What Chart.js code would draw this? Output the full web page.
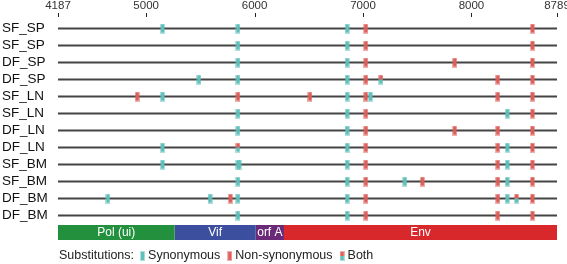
<!DOCTYPE html>
<html>
<head>
<meta charset="utf-8">
<script src="https://cdn.jsdelivr.net/npm/chart.js@4.4.0/dist/chart.umd.min.js"></script>
<style>
  html, body { margin: 0; padding: 0; background: #fff; }
  #wrap { width: 567px; height: 264px; }
</style>
</head>
<body>
<div id="wrap"><canvas id="grafico" width="567" height="264"></canvas></div>
<script>
// Linhas (amostras) de cima para baixo
const rowLabels = ['SF_SP', 'SF_SP', 'DF_SP', 'DF_SP', 'SF_LN', 'SF_LN',
                   'DF_LN', 'DF_LN', 'SF_BM', 'SF_BM', 'DF_BM', 'DF_BM'];
const xTicks = [4187, 5000, 6000, 7000, 8000, 8789];

// Posições das substituições por linha
const synonymous = [
  [5151, 5847, 6853],
  [5847, 6853],
  [5847, 6853],
  [5487, 5847, 6853],
  [5151, 6853, 7068],
  [5847, 6853, 8330],
  [5847, 6853],
  [5151, 6853, 8330],
  [5151, 5847, 5858, 6853, 8330],
  [5847, 6853, 7386, 8330],
  [4648, 5589, 5847, 6853, 8330],
  [5847, 6853]
];
const nonSynonymous = [
  [7026, 8563],
  [7026, 8563],
  [7026, 7846, 8563],
  [7026, 8243, 8563],
  [4917, 5847, 6511, 7026, 8243, 8563],
  [7026, 8563],
  [7026, 7846, 8243, 8563],
  [7026, 8243, 8563],
  [7026, 8243, 8563],
  [7026, 7547, 8243, 8563],
  [5777, 7026, 8243, 8563],
  [7026, 8243, 8563]
];
const both = [[], [], [], [7165], [], [], [], [5847], [], [], [8416], []];

// Genes
const geneNames = ['Pol (ui)', 'Vif', 'orf A', 'Env'];
const geneStart = [4187, 5262, 6011, 6271];
const geneEnd = [5262, 6011, 6271, 8789];
const geneColors = ['#22903c', '#3c4f9f', '#6a2a78', '#d9282b'];

const TEAL = '#5fbfba';
const RED = '#dd5f5b';
const FONT = '"Liberation Sans", Arial, Helvetica, sans-serif';

// Marcador retangular (canvas usado como pointStyle)
function criarMarca(topo, base) {
  const c = document.createElement('canvas');
  c.width = 5; c.height = 10;
  const g = c.getContext('2d');
  g.globalAlpha = 0.5;
  g.fillStyle = topo; g.fillRect(0, 0, 5, 5);
  g.fillStyle = base; g.fillRect(0, 5, 5, 5);
  g.globalAlpha = 1;
  g.fillStyle = topo; g.fillRect(1, 1, 3, 4);
  g.fillStyle = base; g.fillRect(1, 5, 3, 4);
  return c;
}
const marcaSyn = criarMarca(TEAL, TEAL);
const marcaNon = criarMarca(RED, RED);
const marcaBoth = criarMarca(RED, TEAL);

function pontos(lista) {
  const out = [];
  lista.forEach((linha, i) => linha.forEach(v => out.push({ x: v, y: i })));
  return out;
}

const datasets = [];
[[synonymous, marcaSyn], [nonSynonymous, marcaNon], [both, marcaBoth]].forEach(([lista, marca]) => {
  datasets.push({
    data: pontos(lista),
    pointStyle: marca,
    pointRadius: 5,
    showLine: false,
    order: 0
  });
});
rowLabels.forEach((_, i) => {
  datasets.push({
    data: [{ x: xTicks[0], y: i }, { x: xTicks[xTicks.length - 1], y: i }],
    showLine: true,
    borderColor: '#444',
    borderWidth: 2,
    pointRadius: 0,
    order: 2
  });
});
geneNames.forEach((_, i) => {
  datasets.push({
    data: [{ x: geneStart[i], y: 12 }, { x: geneEnd[i], y: 12 }],
    showLine: true,
    borderColor: geneColors[i],
    borderWidth: 15,
    borderCapStyle: 'butt',
    pointRadius: 0,
    order: 3
  });
});

// Plugin: marcas dos ticks, nomes dos genes e legenda
const extras = {
  id: 'extras',
  afterDatasetsDraw(chart) {
    const { ctx, scales: { x, y } } = chart;
    ctx.save();
    ctx.strokeStyle = '#222';
    ctx.lineWidth = 1;
    xTicks.forEach(v => {
      const px = Math.round(x.getPixelForValue(v)) + 0.5;
      ctx.beginPath();
      ctx.moveTo(px, 13);
      ctx.lineTo(px, 17);
      ctx.stroke();
    });

    ctx.fillStyle = '#fff';
    ctx.font = '12px ' + FONT;
    ctx.textAlign = 'center';
    ctx.textBaseline = 'middle';
    geneNames.forEach((nome, i) => {
      const cx = (x.getPixelForValue(geneStart[i]) + x.getPixelForValue(geneEnd[i])) / 2;
      ctx.fillText(nome, cx, y.getPixelForValue(12) + 0.5);
    });

    // Legenda
    ctx.font = '12.5px ' + FONT;
    ctx.textAlign = 'left';
    ctx.fillStyle = '#222';
    const ly = 256;
    let cx = 59;
    const itens = [['Synonymous', marcaSyn], ['Non-synonymous', marcaNon], ['Both', marcaBoth]];
    ctx.fillText('Substitutions:', cx, ly);
    cx += ctx.measureText('Substitutions:').width + 6;
    itens.forEach(([txt, marca]) => {
      ctx.drawImage(marca, cx, ly - 5);
      cx += 8;
      ctx.fillText(txt, cx, ly);
      cx += ctx.measureText(txt).width + 7;
    });
    ctx.restore();
  }
};

new Chart(document.getElementById('grafico'), {
  type: 'scatter',
  data: { datasets },
  options: {
    responsive: false,
    animation: false,
    layout: { padding: { left: 2, right: 10, top: 0, bottom: 23 } },
    plugins: { legend: { display: false }, tooltip: { enabled: false } },
    scales: {
      x: {
        type: 'linear',
        position: 'top',
        min: 4187,
        max: 8789,
        afterBuildTicks: s => { s.ticks = xTicks.map(v => ({ value: v })); },
        afterFit: s => { s.height = 20; s.paddingLeft = 0; s.paddingRight = 0; },
        grid: { display: false, drawTicks: false },
        border: { display: false },
        ticks: {
          autoSkip: false,
          maxRotation: 0,
          padding: 7,
          color: '#333',
          font: { family: FONT, size: 11.5 },
          callback: v => String(v)
        }
      },
      y: {
        type: 'linear',
        min: -0.5,
        max: 12.5,
        reverse: true,
        afterBuildTicks: s => { s.ticks = rowLabels.map((_, i) => ({ value: i })); },
        afterFit: s => { s.width = 56; },
        grid: { display: false, drawTicks: false },
        border: { display: false },
        ticks: {
          autoSkip: false,
          crossAlign: 'far',
          padding: 0,
          color: '#111',
          font: { family: FONT, size: 13.5 },
          callback: v => rowLabels[v] ?? ''
        }
      }
    }
  },
  plugins: [extras]
});
</script>
</body>
</html>
